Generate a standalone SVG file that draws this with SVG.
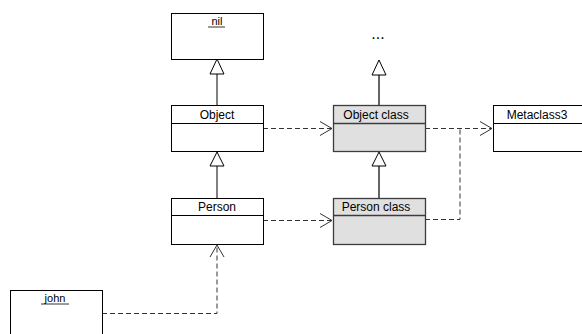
<svg xmlns="http://www.w3.org/2000/svg" width="582" height="334" viewBox="0 0 582 334">
<style>
.box{fill:#fff;stroke:#000;stroke-width:1}
.gbox{fill:#e0e0e0;stroke:#3c3c3c;stroke-width:1.3}
.div{stroke:#000;stroke-width:1}
.gdiv{stroke:#3c3c3c;stroke-width:1.3}
.lbl{font-family:"Liberation Sans",Arial,sans-serif;font-size:12px;fill:#000;text-anchor:middle}
.obj{font-family:"Liberation Sans",Arial,sans-serif;font-size:11px;fill:#000;text-anchor:middle}
.gen{stroke:#000;stroke-width:1;fill:none}
.ggen{stroke:#555;stroke-width:1.8;fill:none}
.tri{fill:#fff;stroke:#000;stroke-width:1}
.dash{stroke:#333;stroke-width:1;fill:none;stroke-dasharray:5,3}
.open{stroke:#333;stroke-width:1;fill:none}
</style>
<rect width="582" height="334" fill="#fff"/>
<g id="connectors">
<line class="gen" x1="217" y1="74" x2="217" y2="105"/>
<polygon class="tri" points="217,59 210,74 224,74"/>
<line class="gen" x1="217" y1="166" x2="217" y2="198"/>
<polygon class="tri" points="217,152 210,166 224,166"/>
<line class="ggen" x1="379" y1="75" x2="379" y2="105"/>
<polygon class="tri" points="379,60 372,75 386,75"/>
<line class="ggen" x1="379" y1="166" x2="379" y2="198"/>
<polygon class="tri" points="379,152 372,166 386,166"/>
<path class="dash" d="M263,128.5 H332"/>
<path class="open" d="M320,121.5 L332,128.5 L320,135.5"/>
<path class="dash" d="M263,220.5 H332"/>
<path class="open" d="M320,213.5 L332,220.5 L320,227.5"/>
<path class="dash" d="M425,128.5 H492"/>
<path class="open" d="M480,121.5 L492,128.5 L480,135.5"/>
<path class="dash" d="M425,219.5 H460 V128.5"/>
<path class="dash" d="M102,313.5 H217 V245"/>
<path class="open" d="M210,257 L217,245 L224,257"/>
</g>
<g id="nil">
<rect class="box" x="171.5" y="13.5" width="92" height="46"/>
<text class="obj" x="217" y="25">nil</text>
<line x1="208" y1="27" x2="225" y2="27" stroke="#000" stroke-width="0.8"/>
</g>
<g id="dots">
<text class="lbl" x="378" y="39" style="font-size:16px">...</text>
</g>
<g id="object">
<rect class="box" x="171.5" y="105.5" width="92" height="46"/>
<line class="div" x1="171.5" y1="123.5" x2="263.5" y2="123.5"/>
<text class="lbl" x="217" y="119">Object</text>
</g>
<g id="object-class">
<rect class="gbox" x="333.5" y="105.5" width="92" height="46"/>
<line class="gdiv" x1="333.5" y1="123.5" x2="425.5" y2="123.5"/>
<text class="lbl" x="376" y="119">Object class</text>
</g>
<g id="metaclass3">
<rect class="box" x="493.5" y="105.5" width="92" height="46"/>
<line class="div" x1="493.5" y1="123.5" x2="585.5" y2="123.5"/>
<text class="lbl" x="537" y="119">Metaclass3</text>
</g>
<g id="person">
<rect class="box" x="171.5" y="198.5" width="92" height="46"/>
<line class="div" x1="171.5" y1="215.5" x2="263.5" y2="215.5"/>
<text class="lbl" x="217" y="211">Person</text>
</g>
<g id="person-class">
<rect class="gbox" x="333.5" y="198.5" width="92" height="46"/>
<line class="gdiv" x1="333.5" y1="215.5" x2="425.5" y2="215.5"/>
<text class="lbl" x="376" y="211">Person class</text>
</g>
<g id="john">
<rect class="box" x="10.5" y="290.5" width="92" height="46"/>
<text class="obj" x="55" y="302">john</text>
<line x1="41" y1="304" x2="69" y2="304" stroke="#000" stroke-width="0.8"/>
</g>
</svg>
